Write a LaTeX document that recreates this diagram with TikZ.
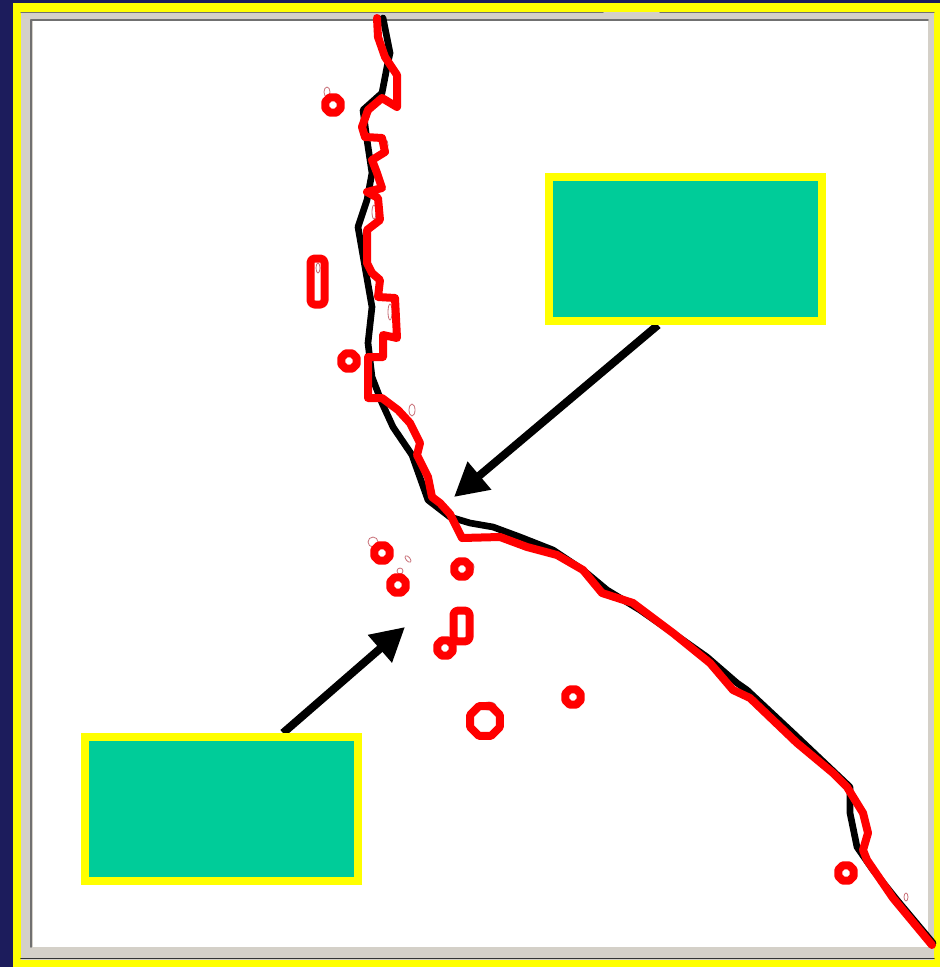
\documentclass[tikz,border=0pt]{standalone}
\usepackage{tikz}
\usetikzlibrary{arrows.meta,positioning,shapes.geometric}
\definecolor{navy}{HTML}{1C1C5C}
\definecolor{frameyel}{HTML}{FFFF00}
\definecolor{panelgray}{HTML}{D4D0C8}
\definecolor{bevdark}{HTML}{707070}
\definecolor{boxgreen}{HTML}{00CC99}
\definecolor{tracered}{HTML}{FF0000}
\definecolor{speckle}{HTML}{C87078}

\begin{document}
\begin{tikzpicture}[x=0.75pt, y=-0.75pt, line cap=round, line join=round,
  truthline/.style={black, line width=5pt},
  traceline/.style={tracered, line width=6pt},
  ring/.style={draw=tracered, regular polygon, regular polygon sides=8,
               line width=6pt, inner sep=0pt, minimum size=12.5pt},
  capsule/.style={draw=tracered, rectangle, rounded corners=3pt,
                  line width=6pt, inner sep=0pt},
  speck/.style={speckle, line width=0.6pt},
  callout/.style={fill=boxgreen, draw=frameyel, line width=6pt, line join=miter,
                  minimum width=204.5pt, minimum height=108pt, inner sep=0pt},
  pointer/.style={-{Triangle[length=25pt,width=26pt]}, black, line width=6pt,
                  line cap=butt}]

% ================================================================ frame
\fill[navy] (0,0) rectangle (940,967);
\fill[frameyel] (13,3) rectangle (940,967);
\fill[panelgray] (21,12) rectangle (934,960);
\draw[bevdark, line width=1pt] (21,12.5) -- (603,12.5);
\draw[bevdark, line width=1pt] (660,12.5) -- (934,12.5);
\draw[bevdark, line width=1.2pt] (31,947) -- (31,20) -- (928,20);
\draw[black!80, line width=1.2pt] (21,958.5) -- (934,958.5);
\fill[white] (33,21) rectangle (928,947);

% ---- speckles left by the detector -----------------------------------
\draw[speck] (327,92) ellipse (3 and 5);
\draw[speck] (386,72) ellipse (2 and 8);
\draw[speck] (386,145) ellipse (2 and 5);
\draw[speck] (374,212) ellipse (2 and 7);
\draw[speck] (318,268) ellipse (2 and 5);
\draw[speck] (390,312) ellipse (2 and 8);
\draw[speck] (412,410) ellipse (3 and 6);
\draw[speck] (373,542) ellipse (5 and 5);
\draw[speck, rotate around={40:(408,559)}] (408,559) ellipse (2 and 4);
\draw[speck] (400,571) ellipse (3 and 3);
\draw[speck] (472,567) ellipse (2 and 4);
\draw[speck] (489,706) ellipse (7 and 4);
\draw[speck] (586,575) ellipse (2 and 3);
\draw[speck] (806,746) ellipse (2 and 3);
\draw[speck] (906,897) ellipse (2 and 4);

% ---- reference boundary ------------------------------------------------
\draw[truthline] (383,18) -- (390,53) -- (387,67) -- (382,93) -- (363,110)
  -- (367,140) -- (372,173) -- (367,200) -- (358,227) -- (365,267)
  -- (372,307) -- (368,343) -- (372,377) -- (382,403) -- (393,427)
  -- (412,455) -- (428,500) -- (450,517) -- (470,523) -- (493,527)
  -- (520,537) -- (553,550) -- (583,570) -- (607,590) -- (640,610)
  -- (673,633) -- (707,657) -- (737,683) -- (747,690) -- (793,733)
  -- (850,787) -- (850,813) -- (857,847) -- (873,870) -- (897,900)
  -- (933,943);

% ---- detected boundary -------------------------------------------------
\draw[traceline] (377,18) -- (378,37) -- (385,57) -- (397,75) -- (397,107)
  -- (382,98) -- (368,110) -- (362,127) -- (365,137) -- (382,138)
  -- (385,152) -- (372,160) -- (377,173) -- (382,188) -- (367,192)
  -- (378,198) -- (380,220) -- (367,230) -- (367,263) -- (372,273)
  -- (380,280) -- (378,297) -- (395,298) -- (397,338) -- (383,335)
  -- (383,357) -- (368,357) -- (368,398) -- (382,398) -- (398,410)
  -- (410,423) -- (420,443) -- (417,455) -- (428,477) -- (432,497)
  -- (440,503) -- (450,514) -- (462,538) -- (500,537) -- (527,547)
  -- (557,555) -- (583,570) -- (602,593) -- (633,603) -- (673,633)
  -- (710,663) -- (733,690) -- (750,698) -- (797,743) -- (833,773)
  -- (847,787) -- (863,813) -- (868,833) -- (863,850) -- (867,860)
  -- (893,898) -- (932,945);

% ---- false spots ---------------------------------------------------------
\node[ring] (spotA) at (333,105) {};
\node[capsule, minimum width=10.5pt, minimum height=34.5pt] (barA) at (317.5,281.5) {};
\node[ring] (spotB) at (349,361) {};
\node[ring] (spotC) at (382,553) {};
\node[ring] (spotD) at (398,585) {};
\node[ring] (spotE) at (462,569) {};
\node[capsule, minimum width=12pt, minimum height=23pt] (barB) at (461.5,626) {};
\node[ring] (spotF) at (445,648) {};
\node[ring, minimum size=24pt] (spotG) at (485,721) {};
\node[ring] (spotH) at (573,697) {};
\node[ring] (spotI) at (846,873) {};

% ---- callouts ------------------------------------------------------------
\coordinate (junction) at (454,497);
\coordinate (gap) at (405,627);
\draw[pointer] (685.5,249) ++(-27.5,76) -- (junction);
\draw[pointer] (221.5,809) ++(61.5,-76) -- (gap);
\node[callout] (noteTop) at (685.5,249) {};
\node[callout] (noteBot) at (221.5,809) {};

\end{tikzpicture}
\end{document}
